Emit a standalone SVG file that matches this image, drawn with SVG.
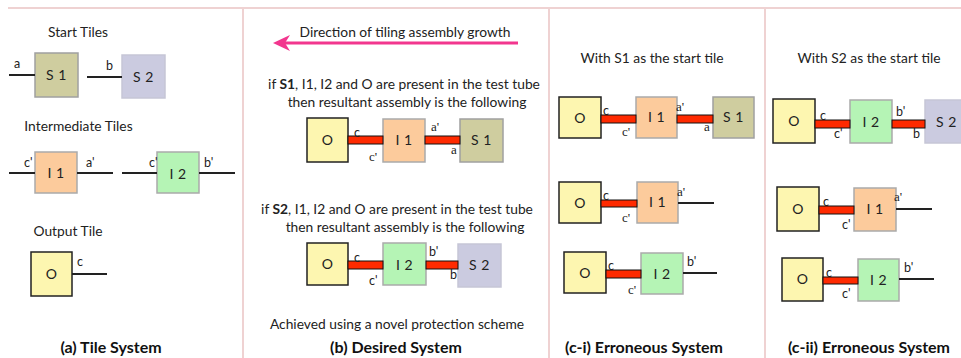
<svg xmlns="http://www.w3.org/2000/svg" width="961" height="358" viewBox="0 0 961 358">
<defs>
<style>
.bg{fill:#ffffff}
.border{stroke:#efd2d2;stroke-width:2;fill:none}
.s1{fill:#cfcd9f;stroke:#a0a0a0;stroke-width:1.5}
.s2{fill:#cbcbe0;stroke:#c6c6d6;stroke-width:1.5}
.i1{fill:#fccb9c;stroke:#aaaaaa;stroke-width:1.5}
.i2{fill:#b5f4b5;stroke:#aaaaaa;stroke-width:1.5}
.o{fill:#fdf6b0;stroke:#222222;stroke-width:1.5}
.bar{fill:#ff2a00;stroke:#111111;stroke-width:1}
.stub{stroke:#222222;stroke-width:2;fill:none}
.t{font-family:Lato,"Open Sans","Liberation Sans",sans-serif;font-size:13.8px;fill:#222222}
.c{text-anchor:middle}
.tile{font-family:Lato,"Open Sans","Liberation Sans",sans-serif;font-size:14px;fill:#222222;text-anchor:middle;letter-spacing:0.5px}
.lbl{font-family:Lato,"Open Sans","Liberation Sans",sans-serif;font-size:12.5px;fill:#222222}
.lbs{font-family:"Liberation Serif",serif;font-size:13px;fill:#222222}
.cap{font-family:Lato,"Open Sans","Liberation Sans",sans-serif;font-size:16px;font-weight:bold;fill:#111111;text-anchor:middle}
.b{font-weight:bold}
</style>
</defs>
<rect class="bg" x="0" y="0" width="961" height="358"/>
<g id="frame">
<line class="border" x1="8" y1="8" x2="961" y2="8"/>
<line class="border" x1="243" y1="8" x2="243" y2="358"/>
<line class="border" x1="549" y1="8" x2="549" y2="358"/>
<line class="border" x1="765" y1="8" x2="765" y2="358"/>
</g>

<!-- Panel (a) -->
<g id="panel-a-texts">
<text class="t c" x="78" y="37">Start Tiles</text>
<text class="t c" x="78.5" y="131">Intermediate Tiles</text>
<text class="t c" x="68" y="236">Output Tile</text>
<text class="cap" x="111" y="353">(a) Tile System</text>
</g>
<g id="a-S1"><rect class="s1" x="35" y="53" width="43" height="44"/><text class="tile" x="56.5" y="80">S 1</text></g>
<g id="a-S2"><rect class="s2" x="122" y="55" width="43" height="43"/><text class="tile" x="143.5" y="82">S 2</text></g>
<g id="a-I1"><rect class="i1" x="35" y="152" width="42" height="41"/><text class="tile" x="56" y="178">I 1</text></g>
<g id="a-I2"><rect class="i2" x="157" y="152" width="42" height="41"/><text class="tile" x="178" y="179">I 2</text></g>
<g id="a-O"><rect class="o" x="31" y="252" width="41" height="44"/><text class="tile" x="51.5" y="279">O</text></g>

<!-- Panel (b) -->
<g id="panel-b-texts">
<text class="t c" x="405" y="37">Direction of tiling assembly growth</text>
<text class="t c" x="404" y="89">if  <tspan class="b">S1</tspan>, I1, I2 and O are present in the test tube</text>
<text class="t c" x="407" y="107">then resultant assembly is the following</text>
<text class="t c" x="397" y="214">if  <tspan class="b">S2</tspan>, I1, I2 and O are present in the test tube</text>
<text class="t c" x="405" y="232">then resultant assembly is the following</text>
<text class="t c" x="397" y="329">Achieved using a novel protection scheme</text>
<text class="cap" x="396" y="353">(b) Desired System</text>
</g>
<g id="growth-arrow">
<line x1="518" y1="43" x2="282" y2="43" stroke="#f2368e" stroke-width="3"/>
<polygon points="273,43 290,35 285,43 290,51" fill="#f2368e"/>
</g>
<g id="b1-O"><rect class="o" x="307" y="118" width="41" height="44"/><text class="tile" x="327.5" y="145">O</text></g>
<g id="b1-I1"><rect class="i1" x="383" y="119" width="42" height="43"/><text class="tile" x="404" y="145">I 1</text></g>
<g id="b1-S1"><rect class="s1" x="460" y="119" width="43" height="43"/><text class="tile" x="481.5" y="145">S 1</text></g>
<g id="b2-O"><rect class="o" x="307" y="243" width="41" height="42"/><text class="tile" x="327.5" y="269">O</text></g>
<g id="b2-I2"><rect class="i2" x="383" y="243" width="43" height="42"/><text class="tile" x="404.5" y="270">I 2</text></g>
<g id="b2-S2"><rect class="s2" x="458" y="244" width="43" height="43"/><text class="tile" x="479.5" y="270">S 2</text></g>

<!-- Panel (c-i) -->
<g id="panel-ci-texts">
<text class="t c" x="652" y="63">With S1 as the start tile</text>
<text class="cap" x="644" y="353">(c-i) Erroneous System</text>
</g>
<g id="ci1-O"><rect class="o" x="559" y="97" width="42" height="41"/><text class="tile" x="580" y="123">O</text></g>
<g id="ci1-I1"><rect class="i1" x="636" y="97" width="41" height="41"/><text class="tile" x="656.5" y="122">I 1</text></g>
<g id="ci1-S1"><rect class="s1" x="713" y="97" width="41" height="41"/><text class="tile" x="733.5" y="122">S 1</text></g>
<g id="ci2-O"><rect class="o" x="559" y="182" width="42" height="41"/><text class="tile" x="580" y="208">O</text></g>
<g id="ci2-I1"><rect class="i1" x="637" y="182" width="41" height="41"/><text class="tile" x="657.5" y="207">I 1</text></g>
<g id="ci3-O"><rect class="o" x="564" y="252" width="42" height="41"/><text class="tile" x="585" y="278">O</text></g>
<g id="ci3-I2"><rect class="i2" x="641" y="253" width="42" height="41"/><text class="tile" x="662" y="279">I 2</text></g>

<!-- Panel (c-ii) -->
<g id="panel-cii-texts">
<text class="t c" x="869" y="63">With S2 as the start tile</text>
<text class="cap" x="869" y="353">(c-ii) Erroneous System</text>
</g>
<g id="cii1-O"><rect class="o" x="773" y="99" width="42" height="44"/><text class="tile" x="794" y="126">O</text></g>
<g id="cii1-I2"><rect class="i2" x="850" y="100" width="42" height="43"/><text class="tile" x="871" y="127">I 2</text></g>
<g id="cii1-S2"><rect class="s2" x="925" y="100" width="43" height="43"/><text class="tile" x="946.5" y="127">S 2</text></g>
<g id="cii2-O"><rect class="o" x="777" y="187" width="42" height="44"/><text class="tile" x="798" y="214">O</text></g>
<g id="cii2-I1"><rect class="i1" x="854" y="188" width="42" height="43"/><text class="tile" x="875" y="214">I 1</text></g>
<g id="cii3-O"><rect class="o" x="782" y="258" width="41" height="43"/><text class="tile" x="802.5" y="284">O</text></g>
<g id="cii3-I2"><rect class="i2" x="858" y="259" width="41" height="42"/><text class="tile" x="878.5" y="285">I 2</text></g>

<!-- Connectors -->
<g id="connectors">
<line class="stub" x1="9" y1="75" x2="35" y2="75"/>
<line class="stub" x1="87" y1="77" x2="122" y2="77"/>
<line class="stub" x1="9" y1="173" x2="35" y2="173"/>
<line class="stub" x1="77" y1="173" x2="113" y2="173"/>
<line class="stub" x1="122" y1="173" x2="157" y2="173"/>
<line class="stub" x1="199" y1="173" x2="235" y2="173"/>
<line class="stub" x1="72" y1="274" x2="107" y2="274"/>
<rect class="bar" x="348" y="136" width="35" height="8"/>
<rect class="bar" x="425" y="136" width="35" height="8"/>
<rect class="bar" x="348" y="261" width="35" height="8"/>
<rect class="bar" x="426" y="261" width="32" height="8"/>
<rect class="bar" x="601" y="115" width="35" height="8"/>
<rect class="bar" x="677" y="115" width="36" height="8"/>
<rect class="bar" x="601" y="200" width="36" height="7"/>
<line class="stub" x1="678" y1="203" x2="714" y2="203"/>
<rect class="bar" x="606" y="270" width="35" height="8"/>
<line class="stub" x1="683" y1="273" x2="717" y2="273"/>
<rect class="bar" x="815" y="120" width="35" height="8"/>
<rect class="bar" x="892" y="120" width="33" height="8"/>
<rect class="bar" x="819" y="206" width="35" height="8"/>
<line class="stub" x1="896" y1="209" x2="932" y2="209"/>
<rect class="bar" x="823" y="277" width="35" height="7"/>
<line class="stub" x1="899" y1="279" x2="934" y2="279"/>
</g>

<g id="connector-labels">
<text class="lbl" x="14" y="68">a</text>
<text class="lbl" x="106" y="70">b</text>
<text class="lbl" x="24" y="167">c'</text>
<text class="lbl" x="86" y="167">a'</text>
<text class="lbl" x="149" y="167">c'</text>
<text class="lbl" x="204" y="167">b'</text>
<text class="lbl" x="77" y="266">c</text>

<text class="lbl" x="354" y="137">c</text>
<text class="lbs" x="369" y="161">c'</text>
<text class="lbs" x="431" y="131">a'</text>
<text class="lbs" x="451" y="154">a</text>
<text class="lbl" x="354" y="262">c</text>
<text class="lbl" x="369" y="285">c'</text>
<text class="lbl" x="429" y="256">b'</text>
<text class="lbl" x="450" y="279">b</text>

<text class="lbl" x="603" y="115">c</text>
<text class="lbs" x="622" y="136">c'</text>
<text class="lbs" x="676" y="111">a'</text>
<text class="lbs" x="704" y="131">a</text>
<text class="lbl" x="603" y="200">c</text>
<text class="lbs" x="622" y="222">c'</text>
<text class="lbs" x="677" y="196">a'</text>
<text class="lbl" x="608" y="270">c</text>
<text class="lbs" x="628" y="294">c'</text>
<text class="lbl" x="687" y="266">b'</text>

<text class="lbl" x="820" y="120">c</text>
<text class="lbl" x="834" y="138">c'</text>
<text class="lbl" x="896" y="116">b'</text>
<text class="lbl" x="913" y="138">b</text>
<text class="lbl" x="823" y="206">c</text>
<text class="lbl" x="842" y="229">c'</text>
<text class="lbs" x="894" y="201">a'</text>
<text class="lbl" x="826" y="277">c</text>
<text class="lbl" x="842" y="298">c'</text>
<text class="lbl" x="904" y="272">b'</text>
</g>
</svg>
